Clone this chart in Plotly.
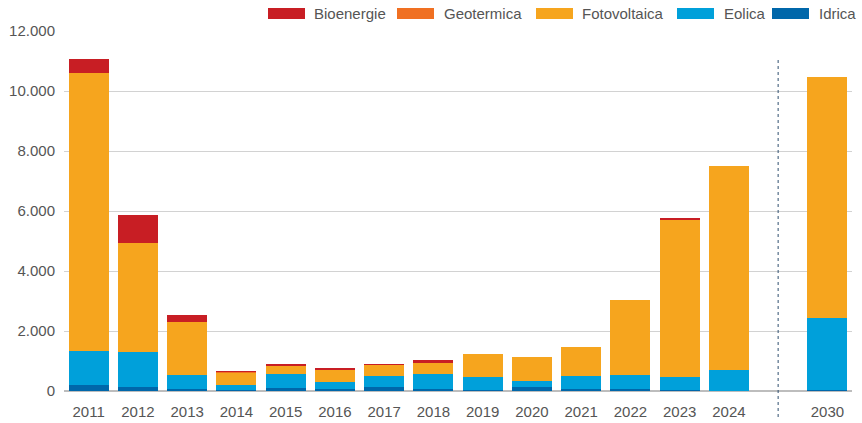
import plotly.graph_objects as go

years = ["2011", "2012", "2013", "2014", "2015", "2016", "2017", "2018", "2019",
         "2020", "2021", "2022", "2023", "2024", "2030"]

idrica       = [200, 130, 70, 40, 110, 70, 145, 80, 40, 150, 70, 60, 20, 10, 50]
eolica       = [1140, 1165, 460, 160, 470, 230, 365, 500, 430, 190, 440, 470, 445, 700, 2375]
fotovoltaica = [9260, 3655, 1760, 410, 280, 400, 360, 385, 770, 800, 960, 2490, 5250, 6780, 8040]
geotermica   = [0, 0, 0, 25, 0, -30, 0, 0, 0, 0, 0, 0, 0, 0, 0]
bioenergie   = [465, 930, 235, 30, 35, 60, 30, 65, 0, 0, 0, 0, 35, 0, 0]

series = [
    ("Idrica", idrica, "#0067AA"),
    ("Eolica", eolica, "#00A0DA"),
    ("Fotovoltaica", fotovoltaica, "#F6A51E"),
    ("Geotermica", geotermica, "#F07022"),
    ("Bioenergie", bioenergie, "#C81E24"),
]

y_ticks = [0, 2000, 4000, 6000, 8000, 10000, 12000]
y_ticktext = ["0", "2.000", "4.000", "6.000", "8.000", "10.000", "12.000"]

# 2030 is separated from the historical years by one empty slot
xpos = [i for i in range(len(years) - 1)] + [len(years)]

FONT = "Liberation Sans, Arial, sans-serif"
TXT = "#555555"

fig = go.Figure()
for name, vals, col in series:
    fig.add_trace(go.Bar(x=xpos, y=vals, name=name, marker_color=col,
                         marker_line_width=0, width=0.81, showlegend=False))

L, R, T, B = 64, 10, 31, 32
W, H = 862, 423
pw = W - L - R
ph = H - T - B

def px_x(p):
    return (p - L) / pw

def px_y(p):
    return (H - B - p) / ph

# custom legend (wide swatches like the reference)
legend_order = [("Bioenergie", "#C81E24", 268, 312),
                ("Geotermica", "#F07022", 397, 442),
                ("Fotovoltaica", "#F6A51E", 536, 580),
                ("Eolica", "#00A0DA", 677, 722),
                ("Idrica", "#0067AA", 772, 817)]
shapes = []
annotations = []
for name, col, sx, tx in legend_order:
    shapes.append(dict(type="rect", xref="paper", yref="paper",
                       x0=px_x(sx), x1=px_x(sx + 37), y0=px_y(19), y1=px_y(8),
                       fillcolor=col, line_width=0, layer="above"))
    annotations.append(dict(xref="paper", yref="paper", x=px_x(tx), y=px_y(13.5),
                            text=name, showarrow=False, xanchor="left", yanchor="middle",
                            font=dict(family=FONT, size=15, color=TXT)))

# dotted separator between historical data and 2030 target
shapes.append(dict(type="line", xref="x", yref="paper", x0=14, x1=14,
                   y0=px_y(417), y1=px_y(58),
                   line=dict(color="#2F4F6F", width=1, dash="dot")))

fig.update_layout(
    width=W, height=H,
    margin=dict(l=L, r=R, t=T, b=B),
    barmode="relative",
    bargap=0,
    plot_bgcolor="white", paper_bgcolor="white",
    font=dict(family=FONT, size=15, color=TXT),
    shapes=shapes,
    annotations=annotations,
    xaxis=dict(range=[-0.5, 15.5], tickvals=xpos, ticktext=years,
               showgrid=False, zeroline=False, showline=False, ticks="",
               ticklabelstandoff=10, automargin=False,
               tickfont=dict(family=FONT, size=15, color=TXT)),
    yaxis=dict(range=[0, 12000], tickvals=y_ticks, ticktext=y_ticktext,
               showgrid=True, gridcolor="#D2D2D2", gridwidth=1,
               zeroline=True, zerolinecolor="#BDBDBD", zerolinewidth=1.5,
               showline=False, ticks="", ticklabelstandoff=8, automargin=False,
               tickfont=dict(family=FONT, size=15, color=TXT)),
)

fig.write_html("out.html", config={"displayModeBar": False},
               post_script="document.body.style.margin='0';document.body.style.overflow='hidden';")
